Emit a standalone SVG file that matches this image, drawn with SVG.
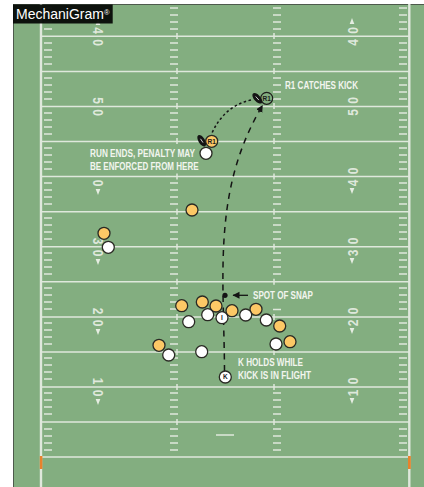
<svg xmlns="http://www.w3.org/2000/svg" width="424" height="487" viewBox="0 0 424 487">
<style>
.yl{stroke:#dfe8dc;stroke-width:1.5;fill:none}
.h{stroke:#dfe8dc;stroke-width:1.3;fill:none}
.num{font:bold 15px "Liberation Sans",Arial,sans-serif;fill:#dfe8dc;text-anchor:middle}
.tri{fill:#e6ede2}
.lab{font:bold 10px "Liberation Sans",Arial,sans-serif;fill:#f2f5ef}
.gold{fill:#fcc866;stroke:#2a2a24;stroke-width:1.3}
.white{fill:#fff;stroke:#2a2a24;stroke-width:1.3}
.pl{font:bold 6.5px "Liberation Sans",Arial,sans-serif;fill:#1d1d1a;text-anchor:middle}
.ball{fill:#141414}
.st{stroke:#fff;stroke-width:.8;fill:none}
</style>
<defs>
<path id="col" class="h" d="M0 8h8M0 15h8M0 22h8M0 29h8M0 43h8M0 50h8M0 57h8M0 64h8M0 78h8M0 85h8M0 92h8M0 99h8M0 113h8M0 120h8M0 127h8M0 134h8M0 148h8M0 155h8M0 162h8M0 169h8M0 183h8M0 190h8M0 197h8M0 204h8M0 218h8M0 225h8M0 232h8M0 239h8M0 253h8M0 260h8M0 267h8M0 274h8M0 288h8M0 295h8M0 302h8M0 309h8M0 323h8M0 330h8M0 337h8M0 344h8M0 358h8M0 365h8M0 372h8M0 379h8M0 393h8M0 400h8M0 407h8M0 414h8M0 429h8M0 436h8M0 443h8M0 450h8"/>
<path id="col-l" class="h" d="M0 8h8M0 15h8M0 22h8M0 29h8M0 43h8M0 50h8M0 57h8M0 64h8M0 78h8M0 85h8M0 92h8M0 99h8M0 113h8M0 120h8M0 127h8M0 134h8M0 183h8M0 190h8M0 197h8M0 204h8M0 218h8M0 225h8M0 232h8M0 239h8M0 253h8M0 260h8M0 267h8M0 274h8M0 288h8M0 295h8M0 302h8M0 309h8M0 323h8M0 330h8M0 337h8M0 344h8M0 358h8M0 365h8M0 372h8M0 379h8M0 393h8M0 400h8M0 407h8M0 414h8M0 429h8M0 436h8M0 443h8M0 450h8"/>
<path id="col-r" class="h" d="M0 8h8M0 15h8M0 22h8M0 29h8M0 43h8M0 50h8M0 57h8M0 64h8M0 78h8M0 85h8M0 92h8M0 99h8M0 113h8M0 120h8M0 127h8M0 134h8M0 148h8M0 155h8M0 162h8M0 169h8M0 183h8M0 190h8M0 197h8M0 204h8M0 218h8M0 225h8M0 232h8M0 239h8M0 253h8M0 260h8M0 267h8M0 274h8M0 309.500h8M0 393h8M0 400h8M0 407h8M0 414h8M0 429h8M0 436h8M0 443h8M0 450h8"/>
<path id="dn" class="tri" d="M-2.3 0h4.6L0 6z"/>
<path id="up" class="tri" d="M-2.3 6h4.6L0 0z"/>
<marker id="ah" markerWidth="8" markerHeight="8" refX="6.5" refY="3.5" orient="auto" markerUnits="userSpaceOnUse"><path d="M0 0L7 3.5L0 7z" fill="#141414"/></marker>
</defs>
<rect width="424" height="487" fill="#fff"/>
<rect x="13.5" y="4.5" width="411" height="483" fill="#83ae80" stroke="#4d5a4c" stroke-width="1"/>
<g id="field">
<path class="yl" d="M41 36.3H409M41 71.4H409M41 106.4H409M41 141.5H409M41 176.6H409M41 211.7H409M41 246.7H409M41 281.8H409M41 316.9H409M41 351.9H409M41 387H409M41 422.1H409M41 456.9H409"/>
<path class="yl" d="M177 33v6M177 68v6M177 103v6M177 138v6M177 173.600v6M177 208.700v6M177 243.700v6M177 278.800v6M177 313.900v6M177 348.900v6M177 384v6M177 419v6M274 33v6M274 68v6M274 103v6M274 138v6M274 173.600v6M274 208.700v6M274 243.700v6M274 278.800v6M274 313.900v6M274 348.900v6M274 384v6M274 419v6"/>
<path d="M41 4V487M409.300 4V487" stroke="#dfe8dc" stroke-width="2.4" fill="none"/>
<use href="#col" x="44"/><use href="#col-l" x="170"/><use href="#col-r" x="273"/><use href="#col" x="399"/>
<path class="yl" d="M216 435h18"/>
<rect x="39.800" y="456" width="2.600" height="13" fill="#e8822c"/>
<rect x="408" y="456" width="2.800" height="13" fill="#e8822c"/>
<g id="numbers-left">
<text class="num" transform="translate(93.300 30.500) rotate(90) scale(.8 1)">4</text>
<text class="num" transform="translate(93.300 42.500) rotate(90) scale(.8 1)">0</text>
<use href="#up" x="98" y="19"/>
<text class="num" transform="translate(93.300 100.500) rotate(90) scale(.8 1)">5</text>
<text class="num" transform="translate(93.300 112.500) rotate(90) scale(.8 1)">0</text>
<text class="num" transform="translate(93.300 183) rotate(90) scale(.8 1)">0</text>
<use href="#dn" x="98" y="189"/>
<text class="num" transform="translate(93.300 241) rotate(90) scale(.8 1)">3</text>
<text class="num" transform="translate(93.300 253) rotate(90) scale(.8 1)">0</text>
<use href="#dn" x="98" y="259"/>
<text class="num" transform="translate(93.300 311) rotate(90) scale(.8 1)">2</text>
<text class="num" transform="translate(93.300 323) rotate(90) scale(.8 1)">0</text>
<use href="#dn" x="98" y="329"/>
<text class="num" transform="translate(93.300 381) rotate(90) scale(.8 1)">1</text>
<text class="num" transform="translate(93.300 393) rotate(90) scale(.8 1)">0</text>
<use href="#dn" x="98" y="399"/>
</g>
<g id="numbers-right">
<use href="#up" x="352" y="18"/>
<text class="num" transform="translate(357.500 30.500) rotate(-90) scale(.8 1)">0</text>
<text class="num" transform="translate(357.500 42.500) rotate(-90) scale(.8 1)">4</text>
<text class="num" transform="translate(357.500 100.500) rotate(-90) scale(.8 1)">0</text>
<text class="num" transform="translate(357.500 112.500) rotate(-90) scale(.8 1)">5</text>
<text class="num" transform="translate(357.500 171) rotate(-90) scale(.8 1)">0</text>
<text class="num" transform="translate(357.500 183) rotate(-90) scale(.8 1)">4</text>
<use href="#dn" x="352" y="188"/>
<text class="num" transform="translate(357.500 241) rotate(-90) scale(.8 1)">0</text>
<text class="num" transform="translate(357.500 253) rotate(-90) scale(.8 1)">3</text>
<use href="#dn" x="352" y="258"/>
<text class="num" transform="translate(357.500 311) rotate(-90) scale(.8 1)">0</text>
<text class="num" transform="translate(357.500 323) rotate(-90) scale(.8 1)">2</text>
<use href="#dn" x="352" y="328"/>
<text class="num" transform="translate(357.500 381) rotate(-90) scale(.8 1)">0</text>
<text class="num" transform="translate(357.500 393) rotate(-90) scale(.8 1)">1</text>
<use href="#dn" x="352" y="398"/>
</g>
</g>
<g id="title">
<rect x="13" y="4.500" width="99.700" height="19" fill="#060a06" fill-opacity=".95"/>
<text x="16" y="19" font-family="'Liberation Sans',Arial,sans-serif" font-size="14" fill="#fff">MechaniGram<tspan font-size="7.500" dy="-4.500">®</tspan></text>
</g>
<g id="connectors" fill="none" stroke="#141414">
<path d="M224.500 371C224 275 212 190 262.500 105.500" stroke-width="1.5" stroke-dasharray="6 5.500" marker-end="url(#ah)"/>
<path d="M251 100Q224 106 211.500 134" stroke-width="1.5" stroke-dasharray="2.500 2.500"/>
<path d="M248 295.300H233" stroke-width="1.300" marker-end="url(#ah)"/>
</g>
<g id="spot"><circle cx="225" cy="295.300" r="2.600" fill="#141414"/></g>
<g id="g1"><circle class="gold" cx="192" cy="210" r="6"/></g>
<g id="g2"><circle class="gold" cx="104" cy="233.300" r="6"/></g>
<g id="w1"><circle class="white" cx="108.300" cy="247.300" r="6"/></g>
<g id="g3"><circle class="gold" cx="181.700" cy="305.700" r="6"/></g>
<g id="g4"><circle class="gold" cx="202.300" cy="302" r="6"/></g>
<g id="g5"><circle class="gold" cx="216" cy="306" r="6"/></g>
<g id="g6"><circle class="gold" cx="232" cy="310.700" r="6"/></g>
<g id="g7"><circle class="gold" cx="256" cy="309.300" r="6"/></g>
<g id="g8"><circle class="gold" cx="279.700" cy="326" r="6"/></g>
<g id="g9"><circle class="gold" cx="290" cy="341.700" r="6"/></g>
<g id="g10"><circle class="gold" cx="159" cy="345.300" r="6"/></g>
<g id="w2"><circle class="white" cx="188.700" cy="321.700" r="6"/></g>
<g id="w3"><circle class="white" cx="207.700" cy="314.700" r="6"/></g>
<g id="w4"><circle class="white" cx="222" cy="317.700" r="6"/><text class="pl" x="222" y="320">I</text></g>
<g id="w5"><circle class="white" cx="245.700" cy="315" r="6"/></g>
<g id="w6"><circle class="white" cx="266.300" cy="320" r="6"/></g>
<g id="w7"><circle class="white" cx="276" cy="344" r="6"/></g>
<g id="w8"><circle class="white" cx="168.700" cy="355" r="6"/></g>
<g id="w9"><circle class="white" cx="201.700" cy="351.700" r="6"/></g>
<g id="k"><circle class="white" cx="225.300" cy="377" r="6"/><text class="pl" x="225.300" y="379.400">K</text></g>
<g id="w10"><circle class="white" cx="206" cy="153.300" r="6"/></g>
<g id="r1-end"><circle class="gold" cx="211.700" cy="141.300" r="6"/><text class="pl" x="211.700" y="143.700">R1</text>
<ellipse class="ball" cx="201.700" cy="140.700" rx="6.500" ry="3.200" transform="rotate(58 201.700 140.700)"/><path class="st" d="M200.500 138.800L203 142.600"/></g>
<g id="r1-catch"><circle cx="266.700" cy="98.300" r="6" fill="#83ae80" stroke="#1d1d1a" stroke-width="1.200"/><text class="pl" x="266.700" y="100.700">R1</text>
<ellipse class="ball" cx="257.300" cy="98.300" rx="6.500" ry="3.200" transform="rotate(48 257.300 98.300)"/><path class="st" d="M255.700 96.500L258.900 100.100"/></g>
<g id="labels">
<text class="lab" x="285" y="89" textLength="73" lengthAdjust="spacingAndGlyphs">R1 CATCHES KICK</text>
<text class="lab" x="90" y="157.300" textLength="105" lengthAdjust="spacingAndGlyphs">RUN ENDS, PENALTY MAY</text>
<text class="lab" x="90" y="170" textLength="108.500" lengthAdjust="spacingAndGlyphs">BE ENFORCED FROM HERE</text>
<text class="lab" x="253" y="298.500" textLength="60" lengthAdjust="spacingAndGlyphs">SPOT OF SNAP</text>
<text class="lab" x="238" y="366" textLength="65" lengthAdjust="spacingAndGlyphs">K HOLDS WHILE</text>
<text class="lab" x="238" y="378.700" textLength="73" lengthAdjust="spacingAndGlyphs">KICK IS IN FLIGHT</text>
</g>
</svg>
